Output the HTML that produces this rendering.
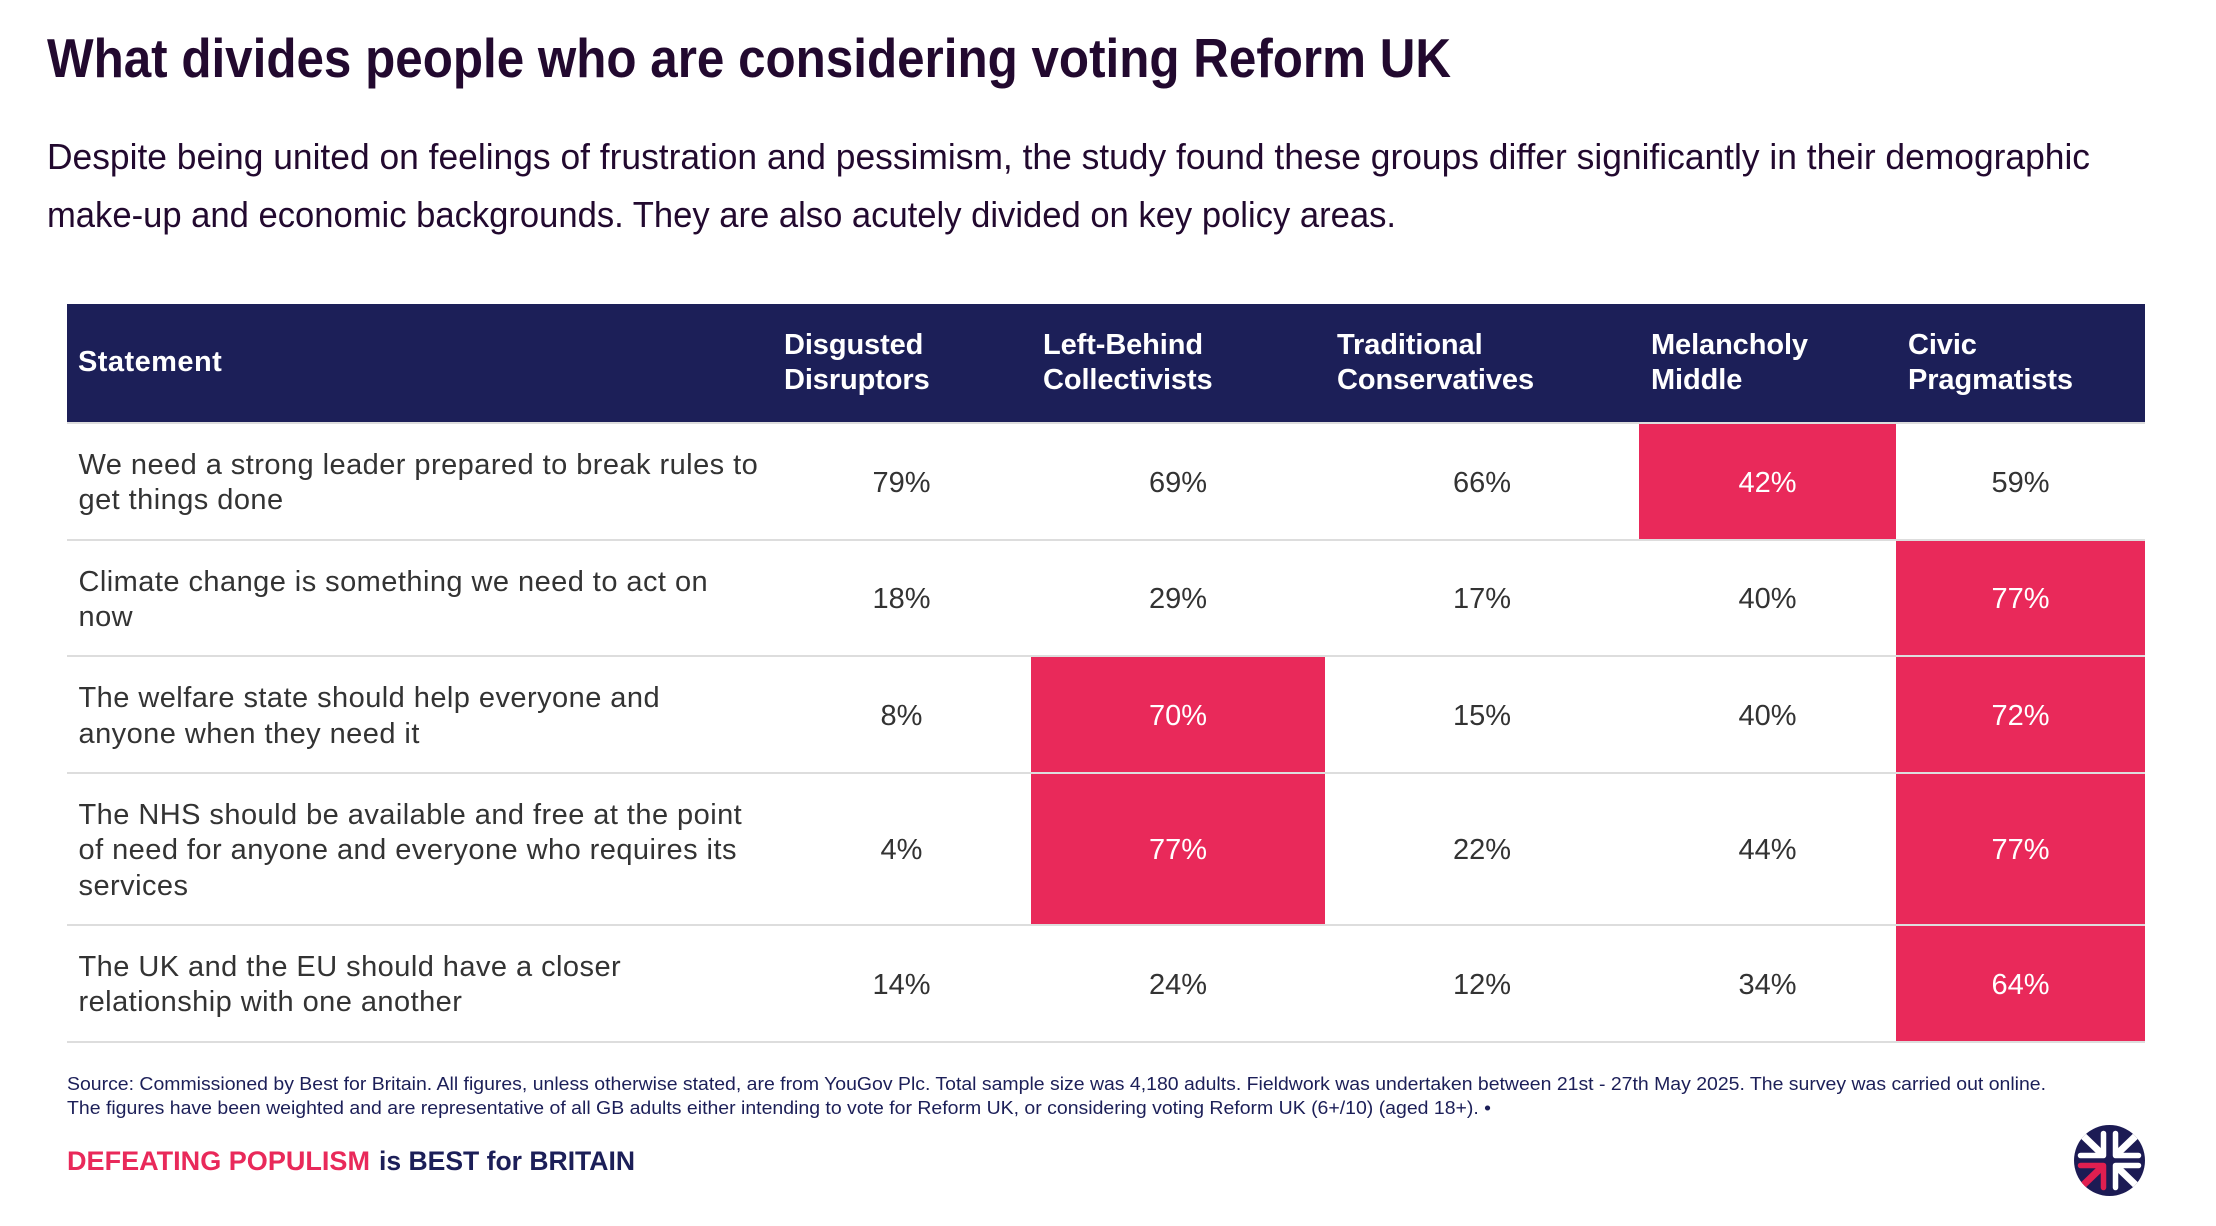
<!DOCTYPE html>
<html lang="en">
<head>
<meta charset="utf-8">
<title>What divides people who are considering voting Reform UK</title>
<style>
html,body{margin:0;padding:0;background:#fff}
body{position:relative;width:2216px;height:1226px;overflow:hidden;font-family:"Liberation Sans",sans-serif}
#page-text{position:absolute;left:0;top:0}
#data-table{position:absolute;left:67px;top:304px;width:2078px;table-layout:fixed;border-collapse:separate;border-spacing:0;font-size:29px;line-height:35.33px;color:#333}
#data-table th{height:120px;box-sizing:border-box;background:#1c1f58;color:#fff;font-weight:700;text-align:left;padding:0 11px 0 12px;border-bottom:2px solid #ddd;letter-spacing:-.1px;vertical-align:middle}
#data-table th:first-child{padding-left:11px;letter-spacing:.45px}
#data-table td{border-bottom:2px solid #ddd;text-align:center;vertical-align:middle;padding:4px 0 0}
#data-table td.statement{text-align:left;padding:24px 8px 20px 11.5px;letter-spacing:.45px}
#data-table td.hot{background:#e9295a;color:#fff}
.line{display:block;white-space:nowrap}
</style>
</head>
<body>

<svg id="page-text" width="2216" height="1226" viewBox="0 0 2216 1226">
  <text x="47" y="77" font-size="55" font-weight="700" fill="#22092f" textLength="1404" lengthAdjust="spacingAndGlyphs">What divides people who are considering voting Reform UK</text>
  <text x="47" y="169" font-size="36" fill="#22092f" textLength="2043" lengthAdjust="spacingAndGlyphs">Despite being united on feelings of frustration and pessimism, the study found these groups differ significantly in their demographic</text>
  <text x="47" y="227" font-size="36" fill="#22092f" textLength="1349" lengthAdjust="spacingAndGlyphs">make-up and economic backgrounds. They are also acutely divided on key policy areas.</text>
  <text x="67" y="1090" font-size="18.5" fill="#1c1f58" textLength="1979" lengthAdjust="spacingAndGlyphs">Source: Commissioned by Best for Britain. All figures, unless otherwise stated, are from YouGov Plc. Total sample size was 4,180 adults. Fieldwork was undertaken between 21st - 27th May 2025. The survey was carried out online.</text>
  <text x="67" y="1114" font-size="18.5" fill="#1c1f58" textLength="1424" lengthAdjust="spacingAndGlyphs">The figures have been weighted and are representative of all GB adults either intending to vote for Reform UK, or considering voting Reform UK (6+/10) (aged 18+). •</text>
  <text x="67" y="1170" font-size="27" font-weight="700" fill="#e9295a" textLength="303" lengthAdjust="spacingAndGlyphs">DEFEATING POPULISM</text>
  <text x="379" y="1170" font-size="27" font-weight="700" fill="#1c1f58" textLength="256" lengthAdjust="spacingAndGlyphs">is BEST for BRITAIN</text>

  <g transform="translate(2109.5 1160.5)">
    <clipPath id="logo-clip"><circle r="35.5"/></clipPath>
    <circle r="35.5" fill="#1c1b54"/>
    <g clip-path="url(#logo-clip)" fill="none" stroke-linecap="round" stroke-linejoin="round" stroke-width="5.5">
      <g stroke="#fff" transform="scale(1 1)"><path d="M6 -27 V-5 H29"/><path d="M7 -6 L34 -32" stroke-width="7" stroke-linecap="butt"/></g>
      <g stroke="#fff" transform="scale(-1 1)"><path d="M6 -27 V-5 H29"/><path d="M7 -6 L34 -32" stroke-width="7" stroke-linecap="butt"/></g>
      <g stroke="#fff" transform="scale(1 -1)"><path d="M6 -27 V-5 H29"/><path d="M7 -6 L34 -32" stroke-width="7" stroke-linecap="butt"/></g>
      <g stroke="#e01f50" transform="scale(-1 -1)"><path d="M6 -27 V-5 H29"/><path d="M7 -6 L34 -32" stroke-width="7" stroke-linecap="butt"/></g>
    </g>
  </g>
</svg>

<table id="data-table">
  <colgroup>
    <col style="width:705px"><col style="width:259px"><col style="width:294px"><col style="width:314px"><col style="width:257px"><col style="width:249px">
  </colgroup>
  <thead id="table-head"></thead>
  <tbody id="table-body"></tbody>
</table>

<script>
const columnLabels = ["Statement", "Disgusted\nDisruptors", "Left-Behind\nCollectivists", "Traditional\nConservatives", "Melancholy\nMiddle", "Civic\nPragmatists"];
const statements = [
  "We need a strong leader prepared to break rules to\nget things done",
  "Climate change is something we need to act on\nnow",
  "The welfare state should help everyone and\nanyone when they need it",
  "The NHS should be available and free at the point\nof need for anyone and everyone who requires its\nservices",
  "The UK and the EU should have a closer\nrelationship with one another"
];
const disgustedDisruptors = [79, 18, 8, 4, 14];
const leftBehindCollectivists = [69, 29, 70, 77, 24];
const traditionalConservatives = [66, 17, 15, 22, 12];
const melancholyMiddle = [42, 40, 40, 44, 34];
const civicPragmatists = [59, 77, 72, 77, 64];
const seriesValues = [disgustedDisruptors, leftBehindCollectivists, traditionalConservatives, melancholyMiddle, civicPragmatists];
const highlightedDisruptors = [false, false, false, false, false];
const highlightedCollectivists = [false, false, true, true, false];
const highlightedConservatives = [false, false, false, false, false];
const highlightedMiddle = [true, false, false, false, false];
const highlightedPragmatists = [false, true, true, true, true];
const highlights = [highlightedDisruptors, highlightedCollectivists, highlightedConservatives, highlightedMiddle, highlightedPragmatists];

function slug(text) {
  return text.toLowerCase().replace(/[^a-z0-9]+/g, '-').replace(/^-|-$/g, '');
}

function addLines(parent, text) {
  text.split('\n').forEach(function (part) {
    const span = document.createElement('span');
    span.className = 'line';
    span.textContent = part;
    parent.appendChild(span);
  });
}

const headRow = document.createElement('tr');


columnLabels.forEach(function (label) {
  const th = document.createElement('th');
  
  
  addLines(th, label);
  headRow.appendChild(th);
});
document.getElementById('table-head').appendChild(headRow);

statements.forEach(function (statement, r) {
  const tr = document.createElement('tr');
  
  
  const first = document.createElement('td');
  first.className = 'statement';
  
  
  addLines(first, statement);
  tr.appendChild(first);
  seriesValues.forEach(function (series, c) {
    const td = document.createElement('td');
    if (highlights[c][r]) td.className = 'hot';
    
    
    td.textContent = series[r] + '%';
    tr.appendChild(td);
  });
  document.getElementById('table-body').appendChild(tr);
});
</script>
</body>
</html>
